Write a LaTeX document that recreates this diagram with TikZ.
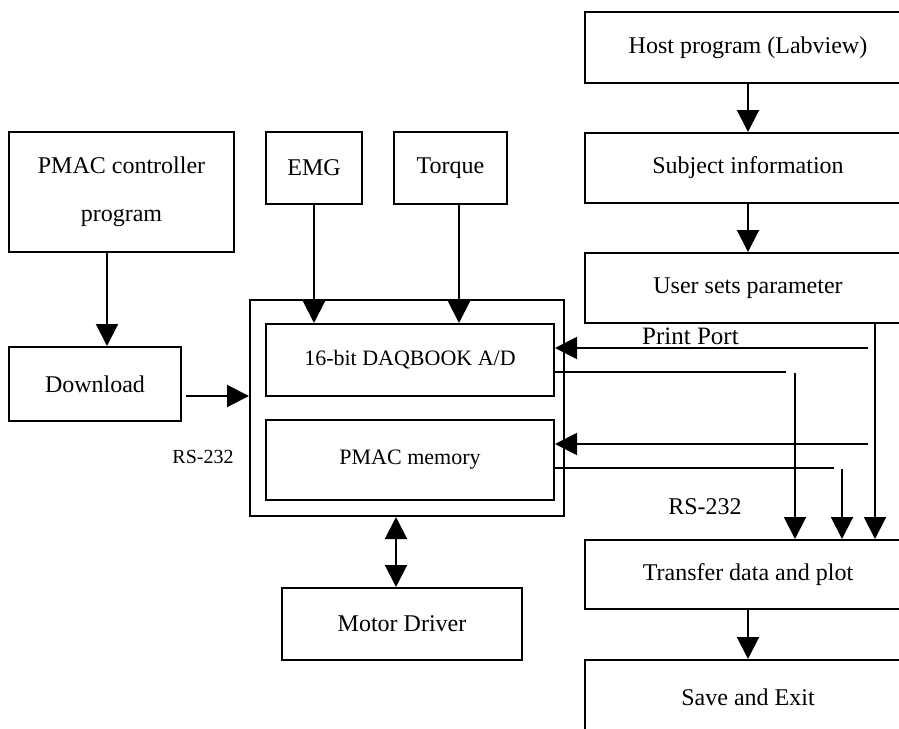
\documentclass[tikz,border=0pt]{standalone}
\usepackage{fontspec}
\setmainfont{Liberation Serif}
\usetikzlibrary{arrows.meta}
\begin{document}
\begin{tikzpicture}[x=1pt,y=-1pt,
  box/.style={draw,line width=2pt,rectangle,inner sep=0pt,align=center,font=\fontsize{24}{48}\selectfont},
  lbl/.style={inner sep=0pt,font=\fontsize{24}{28}\selectfont},
  arr/.style={line width=2pt,-{Triangle[length=22pt,width=22pt]}},
  dbl/.style={line width=2pt,{Triangle[length=22pt,width=22pt]}-{Triangle[length=22pt,width=22pt]}},
  ln/.style={line width=2pt}]
\useasboundingbox (0,0) rectangle (899,728);
% right column
\node[box,minimum width=326pt,minimum height=71pt] (host) at (748,47.5) {Host program (Labview)};
\node[box,minimum width=326pt,minimum height=70pt] (subj) at (748,168) {Subject information};
\node[box,minimum width=326pt,minimum height=70pt] (user) at (748,288) {User sets parameter};
\node[box,minimum width=326pt,minimum height=69pt] (transfer) at (748,574.5) {Transfer data and plot};
\node[box,minimum width=326pt,minimum height=74pt] (save) at (748,697) {Save and Exit};
% left
\node[box,minimum width=225pt,minimum height=120pt] (pmacprog) at (121.5,192) {PMAC controller\\program};
\node[box,minimum width=172pt,minimum height=74pt] (download) at (95,384) {Download};
\node[box,minimum width=96pt,minimum height=72pt] (emg) at (314,168) {EMG};
\node[box,minimum width=113pt,minimum height=72pt] (torque) at (450.5,168) {Torque};
\node[box,minimum width=314pt,minimum height=216pt] (outer) at (407,408) {};
\node[box,minimum width=288pt,minimum height=72pt,font=\fontsize{22}{26}\selectfont] (daq) at (410,360) {16-bit DAQBOOK A/D};
\node[box,minimum width=288pt,minimum height=80pt,font=\fontsize{22}{26}\selectfont] (mem) at (410,460) {PMAC memory};
\node[box,minimum width=240pt,minimum height=72pt] (motor) at (402,624) {Motor Driver};
% labels
\node[lbl,font=\fontsize{20}{24}\selectfont] (rsleft) at (203,457) {RS-232};
\node[lbl] (rsright) at (705,507) {RS-232};
\node[lbl,anchor=west,font=\fontsize{25}{28}\selectfont] (pport) at (642,336) {Print Port};
% connectors
\draw[arr] (host.south) -- (subj.north);
\draw[arr] (subj.south) -- (user.north);
\draw[arr] (transfer.south) -- (save.north);
\draw[arr] (pmacprog.south -| 107,0) -- (download.north -| 107,0);
\coordinate (dlstart) at (186,396);
\draw[arr] (dlstart) -- (outer.west |- dlstart);
\draw[arr] (emg.south) -- (emg.south |- daq.north);
\draw[arr] (torque.south -| 459,0) -- (daq.north -| 459,0);
\draw[dbl] (outer.south -| 396,0) -- (motor.north -| 396,0);
% right connectors
\coordinate (pp) at (868,348);
\draw[arr] (pp) -- (daq.east |- pp);
\coordinate (daqend) at (786,372);
\draw[ln] (daq.east |- daqend) -- (daqend);
\coordinate (daqv) at (795,373);
\draw[arr] (daqv) -- (transfer.north -| daqv);
\coordinate (mp) at (868,444);
\draw[arr] (mp) -- (mem.east |- mp);
\coordinate (memend) at (834,468);
\draw[ln] (mem.east |- memend) -- (memend);
\coordinate (memv) at (842,469);
\draw[arr] (memv) -- (transfer.north -| memv);
\draw[arr] (user.south -| 875,0) -- (transfer.north -| 875,0);
\end{tikzpicture}
\end{document}
